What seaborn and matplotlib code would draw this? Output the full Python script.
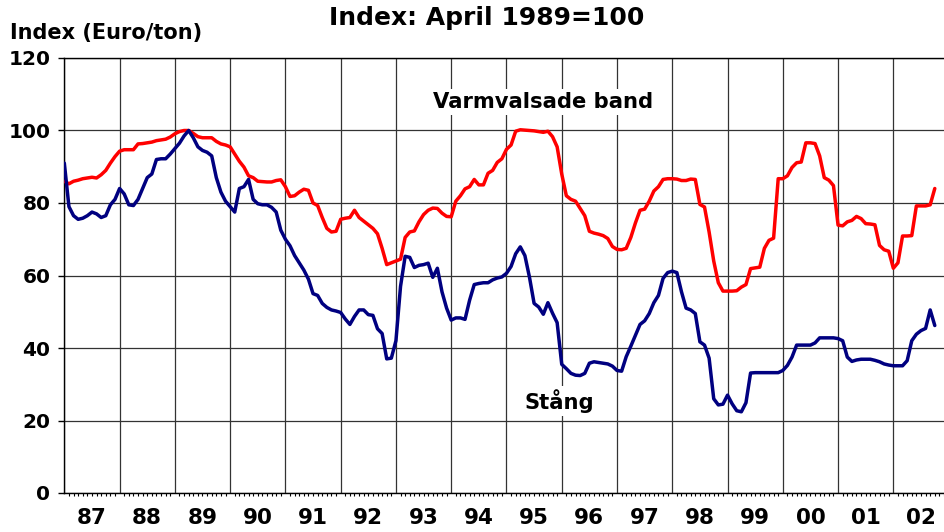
import matplotlib
matplotlib.use("Agg")
import matplotlib.pyplot as plt
import seaborn as sns
import numpy as np
import pandas as pd

# monthly index values, Jan 1987 - Oct 2002 (April 1989 = 100)
varmvalsade = [
    86, 85.3, 86, 86.3, 86.7, 86.9, 87.1, 86.9, 87.8, 89, 91, 92.8,              # 87
    94.3, 94.7, 94.7, 94.7, 96.3, 96.4, 96.6, 96.8, 97.2, 97.4, 97.6, 98.2,      # 88
    99.1, 99.7, 100, 100, 99.2, 98.3, 98, 98, 98, 97, 96.3, 96,                  # 89
    95.5, 93.5, 91.5, 89.9, 87.5, 87, 86, 85.9, 85.8, 85.8, 86.2, 86.4,          # 90
    84.5, 81.8, 82, 83, 83.8, 83.5, 80, 79.3, 76, 73, 72, 72.2,                  # 91
    75.5, 75.8, 76, 78, 76, 75, 74, 73, 71.5, 67.5, 63, 63.5,                    # 92
    64, 64.5, 70.5, 72, 72.3, 74.8, 76.8, 78, 78.6, 78.5, 77.2, 76.3,            # 93
    76.2, 80.5, 82, 83.9, 84.5, 86.5, 85, 85, 88.2, 89, 91.2, 92.2,              # 94
    94.8, 96, 99.8, 100.2, 100.1, 100, 99.9, 99.7, 99.5, 99.8, 98.3, 95.5,       # 95
    88, 82, 81, 80.5, 78.5, 76.5, 72.2, 71.7, 71.4, 71, 70.2, 68,                # 96
    67.2, 67.1, 67.5, 70.5, 74.5, 78, 78.3, 80.5, 83.3, 84.5, 86.5, 86.7,        # 97
    86.7, 86.6, 86.2, 86.2, 86.6, 86.5, 79.6, 78.9, 72, 64, 58, 55.7,            # 98
    55.7, 55.7, 55.8, 56.8, 57.5, 61.9, 62.1, 62.3, 67.5, 69.7, 70.3, 86.7,      # 99
    86.7, 87.5, 89.8, 91.1, 91.3, 96.6, 96.6, 96.4, 93, 87, 86.3, 84.8,          # 00
    73.9, 73.7, 74.8, 75.2, 76.3, 75.7, 74.3, 74.2, 74, 68.3, 67.1, 66.7,        # 01
    62, 63.5, 70.9, 70.9, 71, 79.2, 79.2, 79.2, 79.5, 84,                        # 02
]
stang = [
    91, 79, 76.5, 75.5, 75.8, 76.5, 77.5, 77, 76, 76.5, 79.5, 81,                # 87
    84, 82.5, 79.5, 79.3, 81, 84, 87, 88, 92, 92.2, 92.2, 93.5,                  # 88
    95, 96.5, 98.5, 100, 98, 95.5, 94.5, 94, 93, 87, 83, 80.5,                   # 89
    79, 77.5, 84, 84.5, 86.5, 81, 79.8, 79.5, 79.5, 78.8, 77.5, 72.5,            # 90
    70, 68.2, 65.5, 63.5, 61.5, 59, 55, 54.5, 52.3, 51.2, 50.5, 50.2,            # 91
    49.8, 48, 46.5, 48.7, 50.5, 50.5, 49.2, 49, 45.3, 44, 37, 37.2,              # 92
    42, 57, 65.3, 65, 62.2, 62.8, 63, 63.4, 59.5, 62, 55.5, 51,                  # 93
    47.7, 48.3, 48.3, 47.9, 53.2, 57.5, 57.8, 58, 58, 58.8, 59.3, 59.6,          # 94
    60.6, 62.5, 66, 67.9, 65.5, 59.5, 52.3, 51.3, 49.3, 52.5, 49.6, 47,          # 95
    35.5, 34.3, 33, 32.5, 32.4, 33, 35.8, 36.2, 36, 35.8, 35.6, 35,              # 96
    33.8, 33.6, 37.6, 40.5, 43.5, 46.5, 47.5, 49.5, 52.5, 54.5, 59.2, 60.8,      # 97
    61.2, 60.8, 55.5, 51, 50.5, 49.5, 41.7, 40.8, 37.2, 26, 24.3, 24.5,          # 98
    27, 24.6, 22.7, 22.4, 24.9, 33.1, 33.2, 33.2, 33.2, 33.2, 33.2, 33.2,        # 99
    33.8, 35.2, 37.5, 40.8, 40.8, 40.8, 40.8, 41.4, 42.8, 42.8, 42.8, 42.8,      # 00
    42.6, 42, 37.5, 36.3, 36.7, 36.9, 36.9, 36.9, 36.6, 36.2, 35.6, 35.3,        # 01
    35.1, 35.1, 35.1, 36.5, 42, 43.8, 44.8, 45.4, 50.5, 46.2,                    # 02
]
year_labels = ["87", "88", "89", "90", "91", "92", "93", "94",
               "95", "96", "97", "98", "99", "00", "01", "02"]
first_year = 1987

df = pd.DataFrame({
    "t": first_year + np.arange(len(stang)) / 12,
    "Varmvalsade band": varmvalsade,
    "Stång": stang,
})

sns.set_style("white")
plt.rcParams["font.family"] = ["DejaVu Sans"]
plt.rcParams["text.color"] = "black"
plt.rcParams["xtick.color"] = "black"
plt.rcParams["ytick.color"] = "black"
plt.rcParams["axes.labelcolor"] = "black"

fig = plt.figure(figsize=(9.44, 5.32), dpi=100)
ax = fig.add_axes([63.5 / 944, 39 / 532, 1 - 63.5 / 944, 435 / 532])

sns.lineplot(data=df, x="t", y="Varmvalsade band", ax=ax, color="#ff0000", lw=2.5, zorder=3)
sns.lineplot(data=df, x="t", y="Stång", ax=ax, color="#000080", lw=2.5, zorder=3)

ax.set_xlim(1986.985, 2002.82)
ax.set_ylim(0, 120)
ax.set_xlabel("")
ax.set_ylabel("")

years = np.arange(first_year, first_year + len(year_labels))
ax.set_xticks(years)
ax.set_xticks(np.arange(first_year, 2003, 1 / 12), minor=True)
ax.tick_params(axis="x", which="major", direction="out", length=4.5, width=1, color="black", labelbottom=False)
ax.tick_params(axis="x", which="minor", direction="out", length=2.5, width=0.8, color="black", bottom=True)
ax.set_yticks(np.arange(0, 121, 20))
ax.tick_params(axis="y", direction="out", length=4.5, width=1, color="black",
               labelcolor="black", pad=5, left=True)
for lab in ax.get_yticklabels():
    lab.set_fontsize(14.5)
    lab.set_fontweight("bold")

ax.grid(True, which="major", color="#333333", lw=0.9)
for s in ["left", "bottom", "top"]:
    ax.spines[s].set_color("black")
    ax.spines[s].set_linewidth(1.0)
ax.spines["right"].set_visible(False)

# year labels centred between the year gridlines
sec = ax.secondary_xaxis("bottom")
sec.set_xticks(years + 0.5)
sec.set_xticklabels(year_labels, fontsize=15.5, fontweight="bold", color="black",
                    family=["Liberation Sans Narrow", "DejaVu Sans"])
sec.tick_params(length=0, pad=11)
sec.spines["bottom"].set_visible(False)

ax.text(1995.66, 107.9, "Varmvalsade band", fontsize=15.2, fontweight="bold",
        color="black", ha="center", va="center", zorder=4,
        bbox=dict(facecolor="white", edgecolor="none", pad=2))
ax.text(1995.95, 25.4, "Stång", fontsize=15.2, fontweight="bold",
        color="black", ha="center", va="center", zorder=4,
        bbox=dict(facecolor="white", edgecolor="none", pad=2))

fig.text(0.516, 1 - 18 / 532, "Index: April 1989=100", fontsize=18, fontweight="bold",
         color="black", ha="center", va="center")
fig.text(10 / 944, 1 - 33 / 532, "Index (Euro/ton)", fontsize=15, fontweight="bold",
         color="black", ha="left", va="center")

fig.savefig("out.png", dpi=100)
